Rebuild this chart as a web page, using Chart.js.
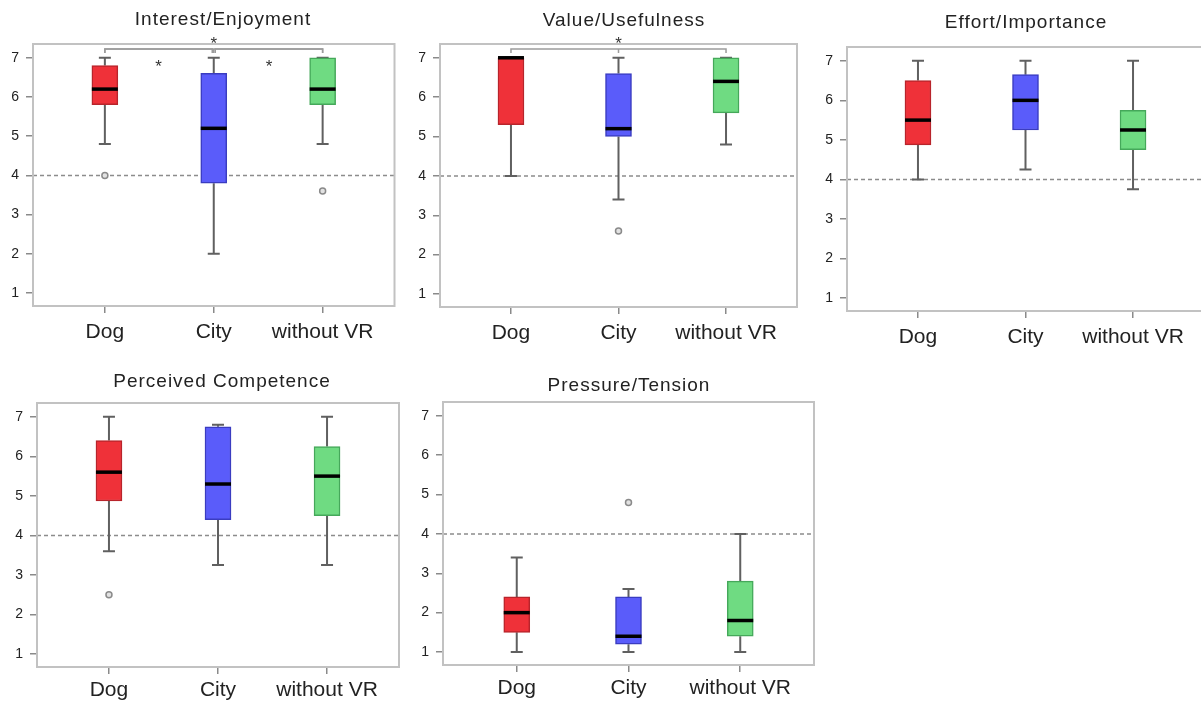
<!DOCTYPE html>
<html>
<head>
<meta charset="utf-8">
<script src="https://cdn.jsdelivr.net/npm/chart.js@4.4.1/dist/chart.umd.min.js"></script>
<style>
  html, body { margin: 0; padding: 0; background: #fff; overflow: hidden; width: 1201px; height: 702px; position: relative; }
  canvas { position: absolute; }
</style>
</head>
<body>
<canvas id="c0"></canvas>
<canvas id="c1"></canvas>
<canvas id="c2"></canvas>
<canvas id="c3"></canvas>
<canvas id="c4"></canvas>
<script>
// Data
const categories = ['Dog', 'City', 'without VR'];
const yTicks = [1, 2, 3, 4, 5, 6, 7];
const referenceLine = 4;
const titles = ['Interest/Enjoyment', 'Value/Usefulness', 'Effort/Importance', 'Perceived Competence', 'Pressure/Tension'];

// each row: [lower whisker, Q1, median, Q3, upper whisker]
const interestBoxes = [[4.8, 5.8, 6.2, 6.8, 7.0], [2.0, 3.8, 5.2, 6.6, 7.0], [4.8, 5.8, 6.2, 7.0, 7.0]];
const interestOutliers = [[4.0], [], [3.6]];
const interestSig = [[1, 2], [2, 3], [1, 3]];

const valueBoxes = [[4.0, 5.3, 7.0, 7.0, 7.0], [3.4, 5.0, 5.2, 6.6, 7.0], [4.8, 5.6, 6.4, 7.0, 7.0]];
const valueOutliers = [[], [2.6], []];
const valueSig = [[1, 3]];

const effortBoxes = [[4.0, 4.875, 5.5, 6.5, 7.0], [4.25, 5.25, 6.0, 6.65, 7.0], [3.75, 4.75, 5.25, 5.75, 7.0]];
const effortOutliers = [[], [], []];

const competenceBoxes = [[3.6, 4.87, 5.6, 6.4, 7.0], [3.25, 4.4, 5.3, 6.75, 6.8], [3.25, 4.5, 5.5, 6.25, 7.0]];
const competenceOutliers = [[2.5], [], []];

const pressureBoxes = [[1.0, 1.5, 2.0, 2.4, 3.4], [1.0, 1.2, 1.4, 2.4, 2.6], [1.0, 1.4, 1.8, 2.8, 4.0]];
const pressureOutliers = [[], [4.8], []];

const panels = [
  { boxes: interestBoxes, outliers: interestOutliers, sig: interestSig },
  { boxes: valueBoxes, outliers: valueOutliers, sig: valueSig },
  { boxes: effortBoxes, outliers: effortOutliers, sig: [] },
  { boxes: competenceBoxes, outliers: competenceOutliers, sig: [] },
  { boxes: pressureBoxes, outliers: pressureOutliers, sig: [] }
];

// Layout (page pixels)
const layouts = [
  { left: 0,   top: 0,   width: 400, height: 350, frame: { l: 33,  t: 44,  r: 395,  b: 306 }, title: { x: 223,  y: 20 },    labelPad: 7 },
  { left: 400, top: 0,   width: 405, height: 350, frame: { l: 440, t: 44,  r: 797,  b: 307 }, title: { x: 624,  y: 21 },    labelPad: 7 },
  { left: 805, top: 0,   width: 400, height: 350, frame: { l: 847, t: 47,  r: 1204, b: 311 }, title: { x: 1026, y: 22.5 },  labelPad: 7 },
  { left: 0,   top: 355, width: 405, height: 347, frame: { l: 37,  t: 403, r: 399,  b: 667 }, title: { x: 222,  y: 381.5 }, labelPad: 4 },
  { left: 405, top: 355, width: 415, height: 347, frame: { l: 443, t: 402, r: 814,  b: 665 }, title: { x: 629,  y: 385.5 }, labelPad: 4 }
];

const FONT = '"Liberation Sans", Arial, sans-serif';
const boxFill = ['#ef3139', '#5a5cfa', '#6fdb82'];
const boxBorder = ['#b8242b', '#3a3cc0', '#45a85a'];

// whiskers, medians, reference line, frame, brackets, title
const boxExtras = {
  id: 'boxExtras',
  beforeDatasetsDraw(chart, args, opts) {
    const { ctx, chartArea: a, scales: { x, y } } = chart;
    ctx.save();
    ctx.strokeStyle = '#8c8c8c';
    ctx.lineWidth = 1.5;
    ctx.setLineDash([4, 3]);
    const ry = y.getPixelForValue(referenceLine);
    ctx.beginPath();
    ctx.moveTo(a.left, ry);
    ctx.lineTo(a.right, ry);
    ctx.stroke();
    ctx.setLineDash([]);

    ctx.strokeStyle = '#606060';
    ctx.lineWidth = 2;
    opts.boxes.forEach((b, i) => {
      const cx = x.getPixelForValue(i + 1);
      const lo = y.getPixelForValue(b[0]);
      const q1 = y.getPixelForValue(b[1]);
      const q3 = y.getPixelForValue(b[3]);
      const hi = y.getPixelForValue(b[4]);
      ctx.beginPath();
      ctx.moveTo(cx, lo); ctx.lineTo(cx, q1);
      ctx.moveTo(cx, q3); ctx.lineTo(cx, hi);
      ctx.moveTo(cx - 6, lo); ctx.lineTo(cx + 6, lo);
      ctx.moveTo(cx - 6, hi); ctx.lineTo(cx + 6, hi);
      ctx.stroke();
    });
    ctx.restore();
  },
  afterDatasetsDraw(chart, args, opts) {
    const { ctx, scales: { x, y } } = chart;
    ctx.save();
    ctx.strokeStyle = '#000';
    ctx.lineWidth = 3.5;
    opts.boxes.forEach((b, i) => {
      const cx = x.getPixelForValue(i + 1);
      const my = y.getPixelForValue(b[2]);
      ctx.beginPath();
      ctx.moveTo(cx - 13, my);
      ctx.lineTo(cx + 13, my);
      ctx.stroke();
    });
    ctx.restore();
  },
  afterDraw(chart, args, opts) {
    const { ctx, chartArea: a, scales: { x } } = chart;
    ctx.save();
    // frame
    ctx.strokeStyle = '#c2c2c2';
    ctx.lineWidth = 2;
    ctx.strokeRect(a.left, a.top, a.right - a.left, a.bottom - a.top);

    // significance brackets
    const level = a.top + 5;
    ctx.strokeStyle = '#9c9c9c';
    ctx.lineWidth = 1.5;
    ctx.fillStyle = '#333';
    ctx.font = '17px ' + FONT;
    ctx.textAlign = 'center';
    ctx.textBaseline = 'alphabetic';
    opts.sig.forEach(([p, q]) => {
      let x1 = x.getPixelForValue(p);
      let x2 = x.getPixelForValue(q);
      const wide = q - p > 1;
      if (!wide) {
        if (p === 2) x1 += 1.5;
        if (q === 2) x2 -= 1.5;
      }
      ctx.beginPath();
      ctx.moveTo(x1, level + 4); ctx.lineTo(x1, level); ctx.lineTo(x2, level); ctx.lineTo(x2, level + 4);
      if (wide) {
        const xm = x.getPixelForValue((p + q) / 2);
        ctx.moveTo(xm, level); ctx.lineTo(xm, level + 4);
      }
      ctx.stroke();
      const sx = (x1 + x2) / 2;
      const sy = wide ? a.top - 5 : a.top + 18;
      ctx.fillText('*', sx, sy + 10);
    });

    // title
    ctx.fillStyle = '#222';
    ctx.font = '19px ' + FONT;
    ctx.letterSpacing = '1px';
    ctx.textBaseline = 'middle';
    ctx.fillText(opts.title, opts.tx, opts.ty);
    ctx.restore();
  }
};

panels.forEach((p, k) => {
  const L = layouts[k];
  const f = L.frame;
  const cv = document.getElementById('c' + k);
  cv.width = L.width;
  cv.height = L.height;
  cv.style.left = L.left + 'px';
  cv.style.top = L.top + 'px';

  const outlierPoints = [];
  p.outliers.forEach((vals, i) => vals.forEach(v => outlierPoints.push({ x: i + 1, y: v })));

  new Chart(cv, {
    type: 'bar',
    data: {
      datasets: [
        {
          type: 'scatter',
          data: outlierPoints,
          pointRadius: 3,
          pointBackgroundColor: '#e2e2e2',
          pointBorderColor: '#8a8a8a',
          pointBorderWidth: 1.5,
          order: 0
        },
        {
          type: 'bar',
          data: p.boxes.map((b, i) => ({ x: i + 1, y: [b[1], b[3]] })),
          backgroundColor: boxFill,
          borderColor: boxBorder,
          borderWidth: 1.5,
          borderSkipped: false,
          barThickness: 26,
          order: 1
        }
      ]
    },
    options: {
      responsive: false,
      animation: false,
      events: [],
      layout: { padding: { top: f.t - L.top, right: L.left + L.width - f.r, left: 0, bottom: 0 } },
      plugins: {
        legend: { display: false },
        tooltip: { enabled: false },
        boxExtras: {
          boxes: p.boxes,
          sig: p.sig,
          title: titles[k],
          tx: L.title.x - L.left,
          ty: L.title.y - L.top
        }
      },
      scales: {
        x: {
          type: 'linear',
          min: 0.34,
          max: 3.66,
          offset: false,
          afterBuildTicks: s => { s.ticks = categories.map((c, i) => ({ value: i + 1 })); },
          afterFit: s => { s.height = L.top + L.height - f.b; },
          ticks: {
            callback: v => categories[v - 1],
            font: { family: FONT, size: 21 },
            color: '#222',
            padding: L.labelPad,
            maxRotation: 0,
            autoSkip: false
          },
          grid: { offset: false, drawOnChartArea: false, tickLength: 7, color: '#8a8a8a', lineWidth: 1.5 },
          border: { display: false }
        },
        y: {
          type: 'linear',
          min: 0.67,
          max: 7.35,
          beginAtZero: false,
          afterBuildTicks: s => { s.ticks = yTicks.map(v => ({ value: v })); },
          afterFit: s => { s.width = f.l - L.left; },
          ticks: {
            font: { family: FONT, size: 14 },
            color: '#222',
            padding: 7
          },
          grid: { drawOnChartArea: false, tickLength: 7, color: '#8a8a8a', lineWidth: 1.5 },
          border: { display: false }
        }
      }
    },
    plugins: [boxExtras]
  });
});
</script>
</body>
</html>
